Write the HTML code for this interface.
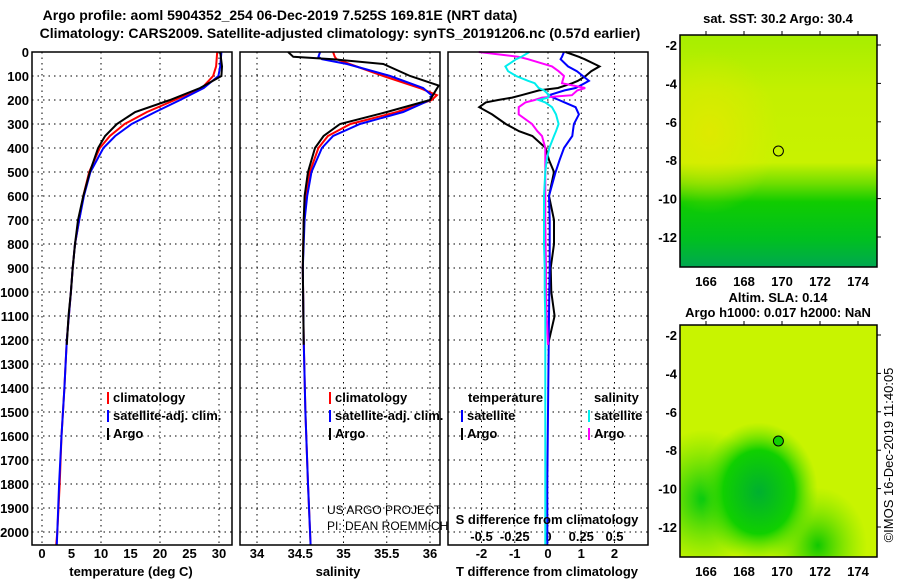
<!DOCTYPE html>
<html><head><meta charset="utf-8"><style>
html,body{margin:0;padding:0;background:#fff;}
svg{display:block;font-family:"Liberation Sans",Arial,sans-serif;}
.b{font-weight:bold;font-size:13px;fill:#000;}
.t{font-weight:bold;font-size:14px;fill:#000;}
</style></head><body>
<svg id="c" width="900" height="580" viewBox="0 0 900 580">
<defs>
<linearGradient id="g1" x1="0" y1="0" x2="0" y2="1">
<stop offset="0" stop-color="#a6ee00"/><stop offset="0.25" stop-color="#c4f000"/><stop offset="0.55" stop-color="#c8f200"/><stop offset="0.64" stop-color="#70de00"/><stop offset="0.72" stop-color="#10cc00"/><stop offset="0.88" stop-color="#00c020"/><stop offset="1" stop-color="#00a850"/></linearGradient>
<radialGradient id="g1b" cx="0.15" cy="0.42" r="0.35"><stop offset="0" stop-color="#e4e800" stop-opacity="0.8"/><stop offset="1" stop-color="#e4e800" stop-opacity="0"/></radialGradient>
<radialGradient id="g2a" cx="0.4" cy="0.72" r="0.3"><stop offset="0" stop-color="#00b030"/><stop offset="0.6" stop-color="#10d000"/><stop offset="1" stop-color="#60e000" stop-opacity="0"/></radialGradient>
<radialGradient id="g2b" cx="0.12" cy="0.75" r="0.3"><stop offset="0" stop-color="#00c810"/><stop offset="1" stop-color="#40d800" stop-opacity="0"/></radialGradient>
<radialGradient id="g2c" cx="0.7" cy="0.95" r="0.25"><stop offset="0" stop-color="#10c800"/><stop offset="1" stop-color="#60e000" stop-opacity="0"/></radialGradient>
</defs>
<text class="t" x="280" y="20" text-anchor="middle">Argo profile: aoml 5904352_254 06-Dec-2019 7.525S 169.81E (NRT data)</text>
<text class="t" x="340" y="38" text-anchor="middle">Climatology: CARS2009. Satellite-adjusted climatology: synTS_20191206.nc (0.57d earlier)</text>
<g id="panels"></g>
<!-- maps -->
<g>
<text class="b" x="778" y="23" text-anchor="middle">sat. SST: 30.2 Argo: 30.4</text>
<rect x="680" y="35" width="197" height="232" fill="url(#g1)"/>
<rect x="680" y="35" width="197" height="232" fill="url(#g1b)"/>
<rect x="680" y="35" width="197" height="232" fill="none" stroke="#000" stroke-width="1.5"/>
<circle cx="778.4" cy="151" r="5" fill="none" stroke="#000"/>
</g>
<g>
<text class="b" x="778" y="302" text-anchor="middle">Altim. SLA: 0.14</text>
<text class="b" x="778" y="317" text-anchor="middle">Argo h1000: 0.017 h2000: NaN</text>
<rect x="680" y="325" width="197" height="232" fill="#c8f400"/>
<rect x="680" y="325" width="197" height="232" fill="url(#g2b)"/>
<rect x="680" y="325" width="197" height="232" fill="url(#g2c)"/>
<rect x="680" y="325" width="197" height="232" fill="url(#g2a)"/>
<rect x="680" y="325" width="197" height="232" fill="none" stroke="#000" stroke-width="1.5"/>
<circle cx="778.4" cy="441" r="5" fill="#10d000" stroke="#000"/>
</g>
<text x="893" y="455" font-size="13" text-anchor="middle" transform="rotate(-90 893 455)">©IMOS 16-Dec-2019 11:40:05</text>
<text x="327" y="514" font-size="12" fill="#000" style="font-weight:normal">US ARGO PROJECT</text>
<text x="327" y="530" font-size="12" fill="#000">PI: DEAN ROEMMICH</text>
</svg>
<script>
// depth grids and values
const depthT = [0,60,100,150,200,250,300,350,400,500,600,700,800,900,1000,1200,1400,1600,1800,2000,2054];
const tempClim = [29.7,29.5,29,27.1,22.5,17.8,14,11.5,9.8,8,7,6.3,5.6,5.2,4.9,4.2,3.8,3.3,3.0,2.6,2.4];
const tempSat = [30.4,30.2,29.9,27.4,23.4,19.2,15.2,12.4,10.4,8.2,7.1,6.3,5.6,5.2,4.9,4.2,3.8,3.3,2.9,2.6,2.5];
const depthArgo = [0,20,60,100,150,200,250,300,350,400,500,600,700,800,900,1000,1100,1220];
const tempArgo = [30.2,30.3,30.5,30.4,26.8,21.7,15.8,12.7,10.7,9.5,8.1,7,6.1,5.6,5.2,4.9,4.5,4.2];
const depthS = [0,20,30,50,100,150,180,200,250,300,350,400,500,600,700,900,1200,1500,1800,2054];
const salClim = [34.88,34.9,34.92,35.07,35.46,35.88,36.08,36.02,35.62,35.08,34.82,34.71,34.61,34.57,34.54,34.53,34.54,34.56,34.59,34.62];
const salSat = [34.73,34.71,34.75,35.04,35.54,35.92,36.02,36.0,35.69,35.19,34.88,34.75,34.63,34.58,34.55,34.53,34.54,34.56,34.59,34.62];
const salArgo = [34.36,34.42,34.88,35.46,35.77,36.1,36.05,36.0,35.5,34.96,34.77,34.67,34.59,34.55,34.54,34.53,34.54];
const depthSArgo = [0,20,30,50,100,140,170,200,250,300,350,400,500,600,700,900,1220];
const depthD = [0,20,30,60,80,100,120,130,150,160,180,190,200,210,230,260,300,330,350,400,450,500,600,700,800,900,1000,1100,1220,1500,1800,2054];
const dTArgo = [0.53,0.93,1.1,1.55,1.3,1.13,0.9,0.73,0.3,-0.27,-0.8,-1.08,-1.5,-1.87,-2.07,-1.68,-1.27,-0.87,-0.47,-0.07,0.03,0.18,0.03,0.18,0.18,0.08,0.1,0.2,0];
const dTSat = [0.48,0.42,0.38,0.6,0.87,1.05,1.23,1.1,0.83,0.5,0.03,0.15,0.33,0.5,0.83,0.93,0.78,0.75,0.73,0.48,0.35,0.23,0.03,0.05,0.05,0.05,0.04,0.03,0.02,0.0,-0.02,-0.02];
const dSArgo = [-0.52,-0.22,-0.15,0.03,0.08,0.12,0.11,0.105,0.28,0.22,0.18,-0.045,-0.1,-0.17,-0.22,-0.22,-0.12,-0.08,-0.045,-0.02,-0.02,-0.02,-0.02,-0.02,-0.018,-0.015,-0.015,-0.01,0];
const dSSat = [-0.14,-0.2,-0.24,-0.32,-0.3,-0.24,-0.15,-0.1,-0.07,-0.03,0.01,0.0,-0.07,-0.02,0.03,0.06,0.08,0.06,0.045,0.01,-0.01,-0.02,-0.03,-0.03,-0.03,-0.025,-0.025,-0.02,-0.02,-0.02,-0.02,-0.02];
const depthTicks = [0,100,200,300,400,500,600,700,800,900,1000,1100,1200,1300,1400,1500,1600,1700,1800,1900,2000];
const tempTicks = [0,5,10,15,20,25,30];
const salTicks = [34,34.5,35,35.5,36];
const salTickLabels = ["34","34.5","35","35.5","36"];
const dTTicks = [-2,-1,0,1,2];
const dSTicks = [-0.5,-0.25,0,0.25,0.5];
const latTicks = [-2,-4,-6,-8,-10,-12];
const lonTicks = [166,168,170,172,174];

const NS='http://www.w3.org/2000/svg';
const svg=document.getElementById('c');
const panels=document.getElementById('panels');
const Y0=52, YS=0.24, PT=52, PB=545;
const yD=d=>Y0+d*YS;
const xT=v=>42+v*5.9;
const xS=v=>257+(v-34)*86.5;
const xDT=v=>548+v*33.25;
const xDS=v=>548+v*133;
const latY1=v=>45+(-2-v)*19.2, latY2=v=>335+(-2-v)*19.2;
const lonX=v=>706+(v-166)*19;
function mk(tag,attrs,parent){const e=document.createElementNS(NS,tag);for(const k in attrs)e.setAttribute(k,attrs[k]);(parent||panels).appendChild(e);return e;}
function line(xf,vals,depths,color,name,steps){
  let d='';const n=Math.min(vals.length,depths.length);
  for(let i=0;i<n;i++){d+=(i?'L':'M')+xf(vals[i]).toFixed(1)+' '+yD(depths[i]).toFixed(1);}
  const p=mk('path',{d:d,fill:'none',stroke:color,'stroke-width':2});
  
  
}
const pans=[[32,232],[240,440],[448,648]];
// frames and horizontal grid
pans.forEach((p,i)=>{
  depthTicks.forEach(d=>{
    const g=mk('line',{x1:p[0],x2:p[1],y1:yD(d),y2:yD(d),stroke:'#000','stroke-dasharray':'1.5,4','stroke-width':1});
    
    
  });
});
tempTicks.forEach((v,i)=>{
  if(i%2==0){const g=mk('line',{x1:xT(v),x2:xT(v),y1:PT,y2:PB,stroke:'#000','stroke-dasharray':'1.5,4'});
  
  }
  const t=mk('text',{x:xT(v),y:558,'text-anchor':'middle',class:'b'});t.textContent=v;
  
  
});
salTicks.forEach((v,i)=>{
  const g=mk('line',{x1:xS(v),x2:xS(v),y1:PT,y2:PB,stroke:'#000','stroke-dasharray':'1.5,4'});
  
  
  const t=mk('text',{x:xS(v),y:558,'text-anchor':'middle',class:'b'});t.textContent=salTickLabels[i];
  
  
});
dTTicks.forEach(v=>{
  const g=mk('line',{x1:xDT(v),x2:xDT(v),y1:PT,y2:PB,stroke:'#000','stroke-dasharray':'1.5,4'});
  
  
  const t=mk('text',{x:xDT(v),y:558,'text-anchor':'middle',class:'b'});t.textContent=v;
  
  
});
dSTicks.forEach(v=>{
  const t=mk('text',{x:xDS(v),y:541,'text-anchor':'middle',class:'b'});t.textContent=v;
  
  
});
depthTicks.forEach(d=>{
  const t=mk('text',{x:29,y:yD(d)+5,'text-anchor':'end',class:'b'});t.textContent=d;
  
  
});
// series
line(xT,tempClim,depthT,'#f00','temp-climatology-line');
line(xT,tempSat,depthT,'#00f','temp-satellite-line');
line(xT,tempArgo,depthArgo,'#000','temp-argo-line');
line(xS,salClim,depthS,'#f00','salinity-climatology-line');
line(xS,salSat,depthS,'#00f','salinity-satellite-line');
line(xS,salArgo,depthSArgo,'#000','salinity-argo-line');
line(xDT,dTArgo,depthD,'#000','tdiff-argo-line');
line(xDT,dTSat,depthD,'#00f','tdiff-satellite-line');
line(xDS,dSArgo,depthD,'#f0f','sdiff-argo-line');
line(xDS,dSSat,depthD,'#0ee','sdiff-satellite-line');
// frames
pans.forEach((p,i)=>{
  const r=mk('rect',{x:p[0],y:PT,width:p[1]-p[0],height:PB-PT,fill:'none',stroke:'#000','stroke-width':1.5});
  
  
});
// axis titles
[['temperature (deg C)',131,'temp-axis-title'],['salinity',338,'salinity-axis-title'],['T difference from climatology',547,'tdiff-axis-title']].forEach(a=>{
  const t=mk('text',{x:a[1],y:576,'text-anchor':'middle',class:'b'});t.textContent=a[0];
  
  
});
const st=mk('text',{x:547,y:524,'text-anchor':'middle',class:'b'});st.textContent='S difference from climatology';


// legends
function leg(x,y,color,label,name){
  const m=mk('rect',{x:x,y:y-10,width:2,height:12,fill:color});
  
  
  const t=mk('text',{x:x+6,y:y,class:'b'});t.textContent=label;
  
  
}
leg(107,402,'#f00','climatology','legend-temp-climatology');
leg(107,420,'#00f','satellite-adj. clim.','legend-temp-satellite');
leg(107,438,'#000','Argo','legend-temp-argo');
leg(329,402,'#f00','climatology','legend-sal-climatology');
leg(329,420,'#00f','satellite-adj. clim.','legend-sal-satellite');
leg(329,438,'#000','Argo','legend-sal-argo');
const lt=mk('text',{x:468,y:402,class:'b'});lt.textContent='temperature';


const ls=mk('text',{x:594,y:402,class:'b'});ls.textContent='salinity';


leg(461,420,'#00f','satellite','legend-tdiff-satellite');
leg(461,438,'#000','Argo','legend-tdiff-argo');
leg(588,420,'#0ee','satellite','legend-sdiff-satellite');
leg(588,438,'#f0f','Argo','legend-sdiff-argo');
// map ticks
[latY1,latY2].forEach((f,k)=>{
  latTicks.forEach(v=>{
    const t=mk('text',{x:677,y:f(v)+5,'text-anchor':'end',class:'b'},svg);t.textContent=v;
    
    
    const tk=mk('line',{x1:877,x2:881,y1:f(v),y2:f(v),stroke:'#000'},svg);
    
    
  });
  lonTicks.forEach(v=>{
    const t=mk('text',{x:lonX(v),y:k?576:286,'text-anchor':'middle',class:'b'},svg);t.textContent=v;
    
    
    const y=k?325:35;
    const tk=mk('line',{x1:lonX(v),x2:lonX(v),y1:y-4,y2:y,stroke:'#000'},svg);
    
    
  });
});
</script>
</body></html>
